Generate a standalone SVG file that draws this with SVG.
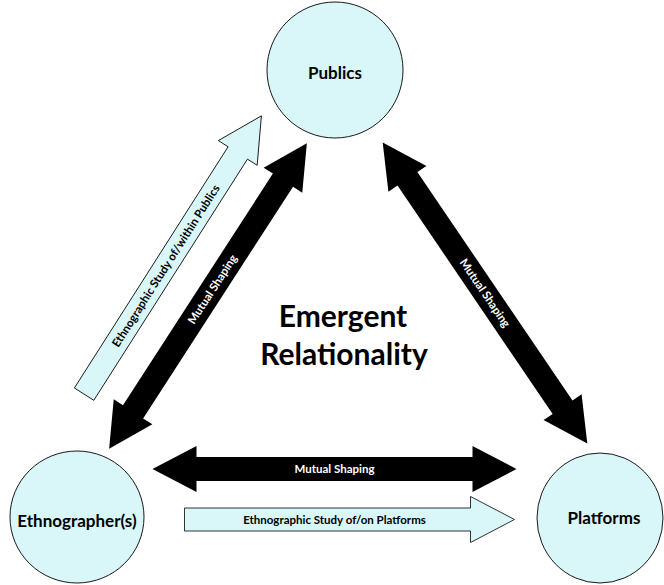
<svg xmlns="http://www.w3.org/2000/svg" xmlns:xlink="http://www.w3.org/1999/xlink" width="664" height="585" viewBox="0 0 664 585">
  <style>
    .node { fill: #d9f6f8; stroke: #000; stroke-width: 0.9; }
    .nlabel { font-family: Lato, "Noto Sans", "Liberation Sans", sans-serif; font-weight: bold; font-size: 17px; fill: #000; text-anchor: middle; }
    .title { font-family: Lato, "Noto Sans", "Liberation Sans", sans-serif; font-weight: bold; font-size: 30px; fill: #000; text-anchor: middle; }
    .black { fill: #000; }
    .study { fill: #d9f6f8; stroke: #000; stroke-width: 0.8; }
    .wlabel { font-family: Lato, "Noto Sans", "Liberation Sans", sans-serif; font-weight: bold; font-size: 11.5px; fill: #fff; text-anchor: middle; }
    .blabel { font-family: Lato, "Noto Sans", "Liberation Sans", sans-serif; font-weight: bold; font-size: 11.5px; fill: #000; text-anchor: middle; }
  </style>
  <defs>
    <path id="dbl" d="M -182,0 L -138,-23 L -138,-12 L 138,-12 L 138,-23 L 182,0 L 138,23 L 138,12 L -138,12 L -138,23 Z"/>
    <path id="sgl" d="M -165,-11.5 L 121,-11.5 L 121,-23 L 165,0 L 121,23 L 121,11.5 L -165,11.5 Z"/>
  </defs>
  <rect width="664" height="585" fill="#fff"/>

  <g id="connectors">
    <g id="ethno-publics-study" transform="translate(172.75,255) rotate(-57.5)">
      <use xlink:href="#sgl" class="study"/>
      <text class="blabel" x="-13" y="4">Ethnographic Study of/within Publics</text>
    </g>
    <g id="ethno-publics-mutual" transform="translate(208,296) rotate(-57.1)">
      <use xlink:href="#dbl" class="black"/>
      <text class="wlabel" x="8" y="4">Mutual Shaping</text>
    </g>
    <g id="publics-platforms-mutual" transform="translate(485,293) rotate(55.8)">
      <use xlink:href="#dbl" class="black"/>
      <text class="wlabel" x="0" y="4">Mutual Shaping</text>
    </g>
    <g id="ethno-platforms-mutual" transform="translate(334.5,469)">
      <use xlink:href="#dbl" class="black"/>
      <text class="wlabel" x="0" y="4">Mutual Shaping</text>
    </g>
    <g id="ethno-platforms-study" transform="translate(349.5,519.5)">
      <use xlink:href="#sgl" class="study"/>
      <text class="blabel" x="-15" y="4">Ethnographic Study of/on Platforms</text>
    </g>
  </g>

  <g id="publics">
    <circle class="node" cx="335" cy="70" r="68"/>
    <text class="nlabel" x="335" y="79">Publics</text>
  </g>
  <g id="ethnographers">
    <ellipse class="node" cx="77" cy="517" rx="67" ry="66"/>
    <text class="nlabel" x="77" y="527">Ethnographer(s)</text>
  </g>
  <g id="platforms">
    <ellipse class="node" cx="600" cy="518" rx="63" ry="65"/>
    <text class="nlabel" x="604" y="524">Platforms</text>
  </g>

  <g id="center-label">
    <text class="title" x="343" y="327">Emergent</text>
    <text class="title" x="344" y="365">Relationality</text>
  </g>
</svg>
